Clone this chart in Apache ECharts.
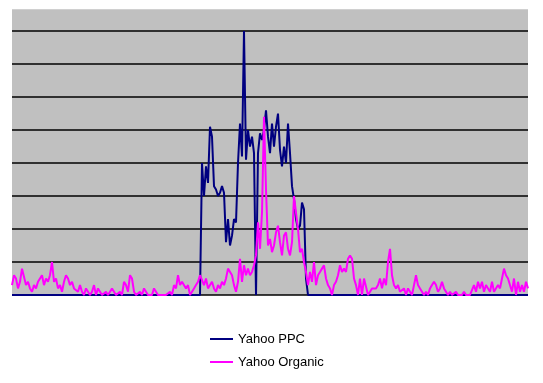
<!DOCTYPE html>
<html>
<head>
<meta charset="utf-8">
<script src="https://cdn.jsdelivr.net/npm/echarts@6/dist/echarts.min.js"></script>
<style>html,body{margin:0;padding:0;background:#fff}#c{width:543px;height:383px}</style>
</head>
<body>
<div id="c"></div>
<script>
const seriesNames = ['Yahoo PPC', 'Yahoo Organic'];
const yahooPPC = [
0,0,0,0,0,0,0,0,0,0,
0,0,0,0,0,0,0,0,0,0,
0,0,0,0,0,0,0,0,0,0,
0,0,0,0,0,0,0,0,0,0,
0,0,0,0,0,0,0,0,0,0,
0,0,0,0,0,0,0,0,0,0,
0,0,0,0,0,0,0,0,0,0,
0,0,0,0,0,0,0,0,0,0,
0,0,0,0,0,0,0,0,0,0,
0,0,0,0,0,4.0,3.0,3.9,3.4,5.1,
4.8,3.3,3.2,3.0,3.1,3.3,3.1,1.6,2.3,1.5,
1.8,2.3,2.2,4.0,5.2,4.2,8.0,4.1,5.0,4.5,
4.8,4.3,0,4.3,4.9,4.7,5.0,5.6,4.8,4.3,
5.2,4.5,5.1,5.5,4.4,3.9,4.5,4.0,5.2,4.3,
3.3,2.9,2.3,2.0,2.1,2.8,2.6,0.5,0,0,
0,0,0,0,0,0,0,0,0,0,
0,0,0,0,0,0,0,0,0,0,
0,0,0,0,0,0,0,0,0,0,
0,0,0,0,0,0,0,0,0,0,
0,0,0,0,0,0,0,0,0,0,
0,0,0,0,0,0,0,0,0,0,
0,0,0,0,0,0,0,0,0,0,
0,0,0,0,0,0,0,0,0,0,
0,0,0,0,0,0,0,0,0,0,
0,0,0,0,0,0,0,0,0,0,
0,0,0,0,0,0,0,0,0
];
const yahooOrganic = [
0.3,0.6,0.5,0.2,0.4,0.8,0.8,0.3,0.4,0.2,
0.1,0.3,0.2,0.4,0.5,0.6,0.3,0.5,0.4,0.6,
1.0,0.4,0.5,0.2,0.3,0.1,0.4,0.6,0.5,0.3,
0.4,0.2,0.2,0.1,0.3,0.1,0.0,0.2,0.1,0.0,
0.1,0.3,0.0,0.2,0.1,0.0,0.0,0.1,0.0,0.0,
0.2,0.1,0.0,0.0,0.1,0.0,0.4,0.3,0.1,0.6,
0.5,0.1,0.0,0.0,0.1,0.0,0.2,0.1,0.0,0.0,
0.0,0.2,0.1,0.0,0.0,0.0,0.0,0.0,0.0,0.1,
0.0,0.3,0.2,0.6,0.3,0.4,0.4,0.2,0.3,0.0,
0.1,0.2,0.3,0.4,0.6,0.6,0.3,0.5,0.2,0.3,
0.4,0.2,0.1,0.3,0.2,0.4,0.3,0.5,0.8,0.8,
0.6,0.3,0.1,0.4,1.1,0.4,0.9,0.6,0.8,0.6,
0.7,0.9,1.2,2.2,1.4,2.5,5.4,3.2,1.5,1.7,
1.3,1.5,1.9,2.1,1.6,1.2,1.8,1.9,1.4,1.2,
1.6,3.0,3.0,2.0,1.3,1.4,1.0,0.7,0.3,0.7,
0.4,1.0,0.3,0.6,0.7,0.8,0.9,0.5,0.3,0.2,
0.0,0.3,0.4,0.6,0.9,0.7,0.8,0.7,1.1,1.2,
1.1,0.5,0.3,0.0,0.5,0.0,0.5,0.5,0.0,0.1,
0.2,0.2,0.2,0.3,0.5,0.2,0.5,0.3,1.0,1.4,
0.6,0.3,0.2,0.3,0.1,0.1,0.2,0.0,0.2,0.1,
0.0,0.3,0.6,0.3,0.2,0.1,0.0,0.1,0.0,0.2,
0.3,0.4,0.3,0.1,0.2,0.4,0.2,0.1,0.0,0.1,
0.0,0.0,0.1,0.0,0.0,0.0,0.1,0.0,0.0,0.0,
0.0,0.3,0.1,0.4,0.2,0.4,0.1,0.3,0.2,0.1,
0.4,0.1,0.1,0.3,0.2,0.5,0.8,0.6,0.5,0.5,
0.1,0.5,0.0,0.4,0.1,0.3,0.1,0.4,0.2
];
const categories = yahooOrganic.map((_, i) => String(i + 1));

const chart = echarts.init(document.getElementById('c'), null, {renderer: 'canvas'});
chart.setOption({
  animation: false,
  grid: {left: 12, right: 15, top: 10, bottom: 88, show: true, backgroundColor: '#c0c0c0', borderWidth: 0},
  xAxis: {
    type: 'category', data: categories, boundaryGap: false,
    axisLine: {show: false}, axisTick: {show: false}, axisLabel: {show: false}, splitLine: {show: false}
  },
  yAxis: {
    type: 'value', min: 0, max: 8.64, interval: 1,
    axisLine: {show: false}, axisTick: {show: false}, axisLabel: {show: false},
    splitLine: {show: true, lineStyle: {width: 1.5, color: ['#000','#000','#000','#000','#000','#000','#000','#000','#000','#c0c0c0']}}
  },
  legend: {
    orient: 'vertical', left: 205, top: 327, itemGap: 9, itemWidth: 23, itemHeight: 2, icon: 'rect',
    textStyle: {fontFamily: 'Liberation Sans, Arial, sans-serif', fontSize: 13, color: '#000', lineHeight: 14},
    data: seriesNames
  },
  series: [
    {name: seriesNames[0], type: 'line', data: yahooPPC, symbol: 'none', lineStyle: {color: '#000080', width: 2}, itemStyle: {color: '#000080'}},
    {name: seriesNames[1], type: 'line', data: yahooOrganic, symbol: 'none', lineStyle: {color: '#ff00ff', width: 2}, itemStyle: {color: '#ff00ff'}}
  ]
});
</script>
</body>
</html>
